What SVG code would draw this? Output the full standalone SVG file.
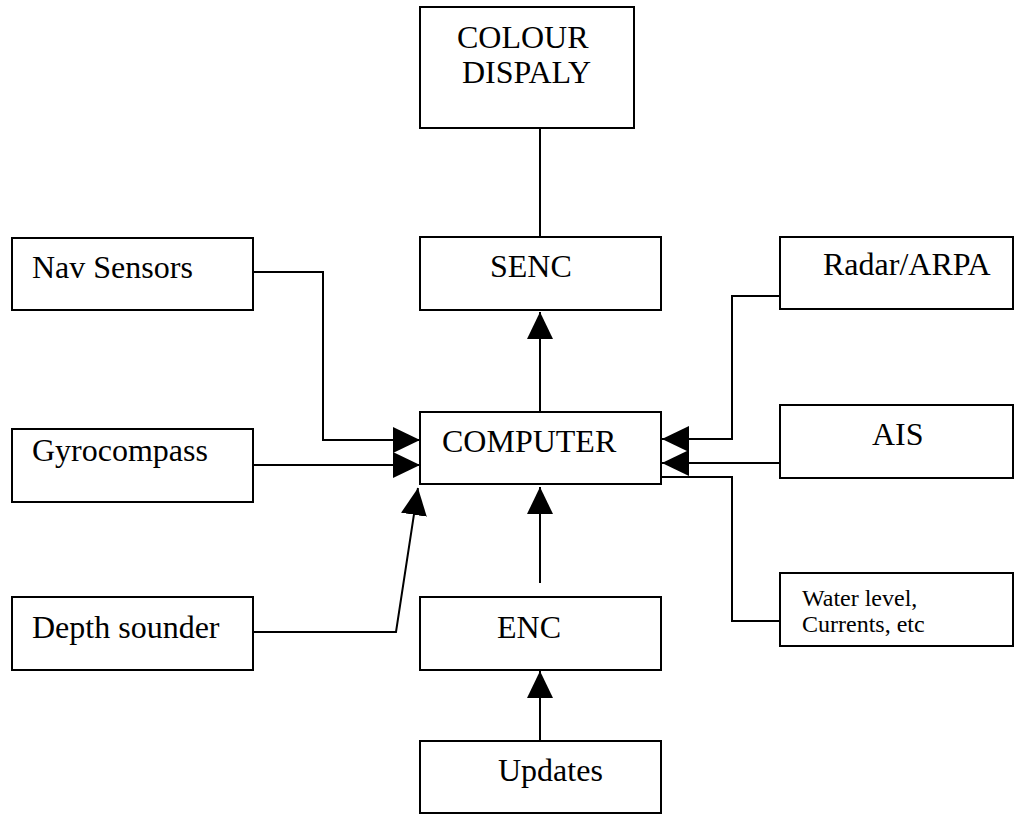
<svg xmlns="http://www.w3.org/2000/svg" width="1015" height="814" viewBox="0 0 1015 814">
<style>
.box{fill:#fff;stroke:#000;stroke-width:2}
.ln{fill:none;stroke:#000;stroke-width:2}
text{font-family:'Liberation Serif','Times New Roman',serif;fill:#000}
.t{font-size:32px}
.s{font-size:24px}
</style>
<defs>
<marker id="ah" markerUnits="userSpaceOnUse" markerWidth="28" markerHeight="26" refX="27" refY="13" orient="auto">
<path d="M0,0 L27,13 L0,26 Z" fill="#000"/>
</marker>
</defs>
<rect width="1015" height="814" fill="#fff"/>
<g id="connectors">
<line class="ln" x1="540" y1="128" x2="540" y2="237"/>
<line class="ln" x1="540" y1="412" x2="540" y2="312" marker-end="url(#ah)"/>
<polyline class="ln" points="253,272 323,272 323,440 420,440" marker-end="url(#ah)"/>
<line class="ln" x1="253" y1="465" x2="420" y2="465" marker-end="url(#ah)"/>
<polyline class="ln" points="253,632 396,632 418,488" marker-end="url(#ah)"/>
<line class="ln" x1="540" y1="583" x2="540" y2="487" marker-end="url(#ah)"/>
<line class="ln" x1="540" y1="741" x2="540" y2="671" marker-end="url(#ah)"/>
<polyline class="ln" points="780,296 732,296 732,439 662,439" marker-end="url(#ah)"/>
<line class="ln" x1="780" y1="463" x2="662" y2="463" marker-end="url(#ah)"/>
<polyline class="ln" points="661,477 732,477 732,621 780,621"/>
</g>
<g id="colour-display"><rect class="box" x="420" y="7" width="214" height="121"/><text class="t" x="457" y="48">COLOUR</text><text class="t" x="462" y="83">DISPALY</text></g>
<g id="senc"><rect class="box" x="420" y="237" width="241" height="73"/><text class="t" x="490" y="277">SENC</text></g>
<g id="nav-sensors"><rect class="box" x="12" y="238" width="241" height="72"/><text class="t" x="32" y="278">Nav Sensors</text></g>
<g id="radar"><rect class="box" x="780" y="237" width="233" height="72"/><text class="t" x="823" y="275">Radar/ARPA</text></g>
<g id="computer"><rect class="box" x="420" y="412" width="241" height="72"/><text class="t" x="442" y="452">COMPUTER</text></g>
<g id="gyrocompass"><rect class="box" x="12" y="429" width="241" height="73"/><text class="t" x="32" y="461">Gyrocompass</text></g>
<g id="ais"><rect class="box" x="780" y="405" width="233" height="73"/><text class="t" x="872" y="445">AIS</text></g>
<g id="depth-sounder"><rect class="box" x="12" y="597" width="241" height="73"/><text class="t" x="32" y="638">Depth sounder</text></g>
<g id="enc"><rect class="box" x="420" y="597" width="241" height="73"/><text class="t" x="497" y="638">ENC</text></g>
<g id="water-level"><rect class="box" x="780" y="573" width="233" height="73"/><text class="s" x="802" y="606">Water level,</text><text class="s" x="802" y="632">Currents, etc</text></g>
<g id="updates"><rect class="box" x="420" y="741" width="241" height="72"/><text class="t" x="498" y="781">Updates</text></g>
</svg>
